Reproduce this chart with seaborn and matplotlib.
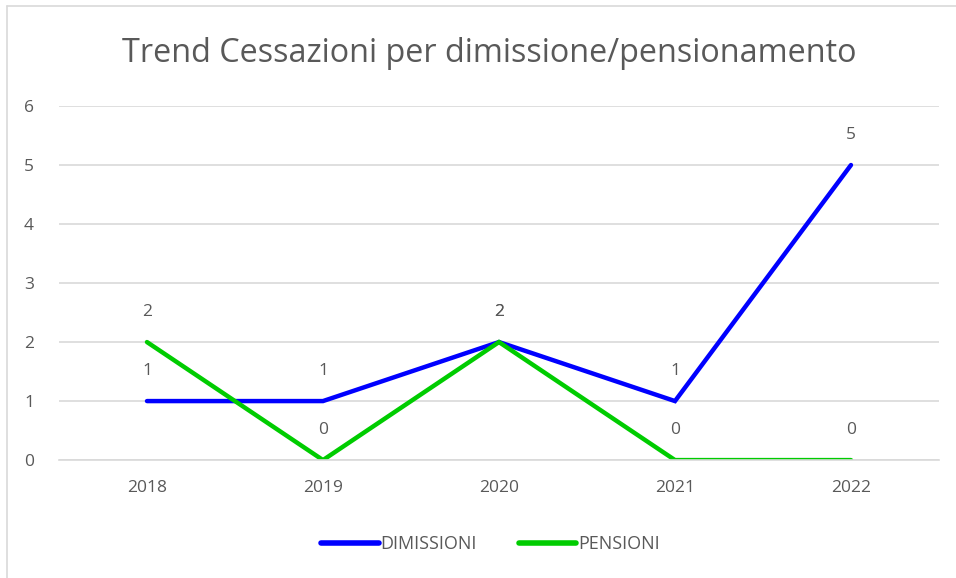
import matplotlib
matplotlib.use("Agg")
import matplotlib.pyplot as plt
import seaborn as sns
import pandas as pd
from matplotlib.lines import Line2D

years = ["2018", "2019", "2020", "2021", "2022"]
dimissioni = [1, 1, 2, 1, 5]
pensioni = [2, 0, 2, 0, 0]
series_names = ["DIMISSIONI", "PENSIONI"]
colors = ["#0000FF", "#00CC00"]
title = "Trend Cessazioni per dimissione/pensionamento"

df = pd.DataFrame({
    "anno": years * 2,
    "valore": dimissioni + pensioni,
    "serie": [series_names[0]] * len(years) + [series_names[1]] * len(years),
})

sns.set_theme(style="white")
plt.rcParams['font.family'] = ['Open Sans', 'DejaVu Sans']
txt = "#595959"

fig = plt.figure(figsize=(9.56, 5.78), dpi=100)
ax = fig.add_axes([0.0617, 0.204, 0.9205, 0.6126])

sns.lineplot(data=df, x="anno", y="valore", hue="serie", palette=colors,
             linewidth=3.2, ax=ax, legend=False, sort=False)
for l in ax.lines:
    l.set_solid_capstyle("round")
    l.set_solid_joinstyle("miter")

ax.set_xlim(-0.5, len(years) - 0.5)
ax.set_ylim(0, 6)
ax.set_yticks(range(0, 7))
ax.grid(axis="y", color="#D9D9D9", linewidth=1.2)
ax.set_axisbelow(True)
for s in ax.spines.values():
    s.set_visible(False)
ax.spines["bottom"].set_visible(True)
ax.spines["bottom"].set_color("#D9D9D9")
ax.spines["bottom"].set_linewidth(1.2)
ax.set_xlabel("")
ax.set_ylabel("")
ax.tick_params(axis="both", length=0, labelsize=12.5, colors=txt)
ax.tick_params(axis="y", pad=18)
ax.tick_params(axis="x", pad=14)

for vals in (dimissioni, pensioni):
    for i, v in enumerate(vals):
        ax.annotate(str(v), (i, v), xytext=(0, 16), textcoords="offset points",
                    ha="center", va="bottom", fontsize=12.5, color=txt)

fig.text(0.512, 0.907, title, ha="center", va="center", fontsize=23.3, color=txt)

handles = [Line2D([0], [0], color=c, linewidth=4, solid_capstyle="round") for c in colors]
fig.legend(handles, series_names, loc="center", bbox_to_anchor=(0.513, 0.058),
           ncol=2, frameon=False, fontsize=13, labelcolor=txt,
           handlelength=3.2, handletextpad=0.1, columnspacing=2.3)

fig.add_artist(Line2D([0.0075, 0.0075], [0, 0.99], transform=fig.transFigure,
                      color="#D9D9D9", linewidth=1.2))
fig.add_artist(Line2D([0.0075, 1.0], [0.99, 0.99], transform=fig.transFigure,
                      color="#D9D9D9", linewidth=1.2))

fig.savefig("out.png", dpi=100, facecolor="white")
